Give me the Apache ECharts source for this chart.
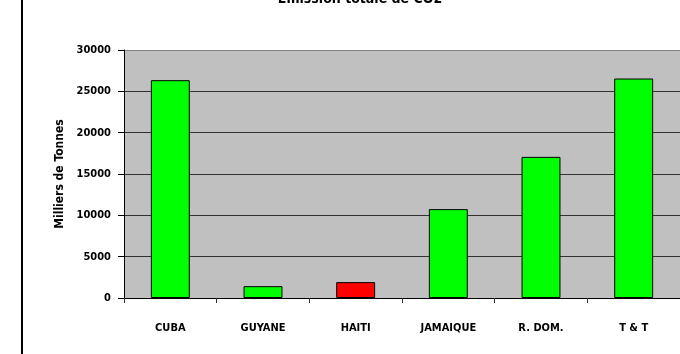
<!DOCTYPE html>
<html>
<head>
<meta charset="utf-8">
<script src="https://cdn.jsdelivr.net/npm/echarts@6/dist/echarts.min.js"></script>
<style>
html,body{margin:0;padding:0;background:#fff;}
#c{width:680px;height:354px;}
</style>
</head>
<body>
<div id="c"></div>
<script>
var categories = ['CUBA', 'GUYANE', 'HAITI', 'JAMAIQUE', 'R. DOM.', 'T & T'];
var values = [26350, 1430, 1920, 10750, 17070, 26550];
var barColors = ['#00ff00', '#00ff00', '#ff0000', '#00ff00', '#00ff00', '#00ff00'];
var yTicks = [0, 5000, 10000, 15000, 20000, 25000, 30000];
var titleText = 'Emission totale de CO2';
var yName = 'Milliers de Tonnes';

var FONT = '"Liberation Sans Narrow", "DejaVu Sans Condensed", sans-serif';
var chart = echarts.init(document.getElementById('c'), null, {renderer: 'canvas'});
chart.setOption({
  animation: false,
  backgroundColor: '#ffffff',
  graphic: [
    {type: 'rect', left: 21, top: 0, shape: {x: 0, y: 0, width: 2, height: 354}, style: {fill: '#000'}, z: 10},
    {type: 'text', x: 360, y: -8, style: {text: titleText, font: 'bold 14px ' + FONT, fill: '#000', textAlign: 'center', textVerticalAlign: 'top'}, z: 10}
  ],
  grid: {left: 124, top: 50, width: 559, height: 248, backgroundColor: '#c0c0c0', show: true, borderWidth: 0},
  xAxis: {
    type: 'category',
    data: categories,
    axisLine: {lineStyle: {color: '#000', width: 1}},
    axisTick: {show: true, length: 5, lineStyle: {color: '#333'}},
    axisLabel: {color: '#000', fontFamily: FONT, fontSize: 11, fontWeight: 'bold', margin: 25, interval: 0}
  },
  yAxis: {
    type: 'value',
    min: 0, max: 30000, interval: 5000,
    name: yName,
    nameLocation: 'middle',
    nameGap: 58,
    nameTextStyle: {color: '#000', fontFamily: FONT, fontSize: 12, fontWeight: 'bold'},
    axisLine: {show: true, lineStyle: {color: '#000', width: 1}},
    axisTick: {show: true, length: 6, lineStyle: {color: '#000'}},
    axisLabel: {color: '#000', fontFamily: FONT, fontSize: 11, fontWeight: 'bold', margin: 13,
      formatter: function (v) { return yTicks.indexOf(v) >= 0 ? String(v) : ''; }},
    splitLine: {show: true, lineStyle: {color: ['#000', '#333', '#333', '#333', '#333', '#333', '#808080'], width: 1}}
  },
  series: [{
    type: 'bar',
    barWidth: '42%',
    data: values.map(function (v, i) {
      return {value: v, itemStyle: {color: barColors[i], borderColor: '#000', borderWidth: 1}};
    })
  }]
});
</script>
</body>
</html>
